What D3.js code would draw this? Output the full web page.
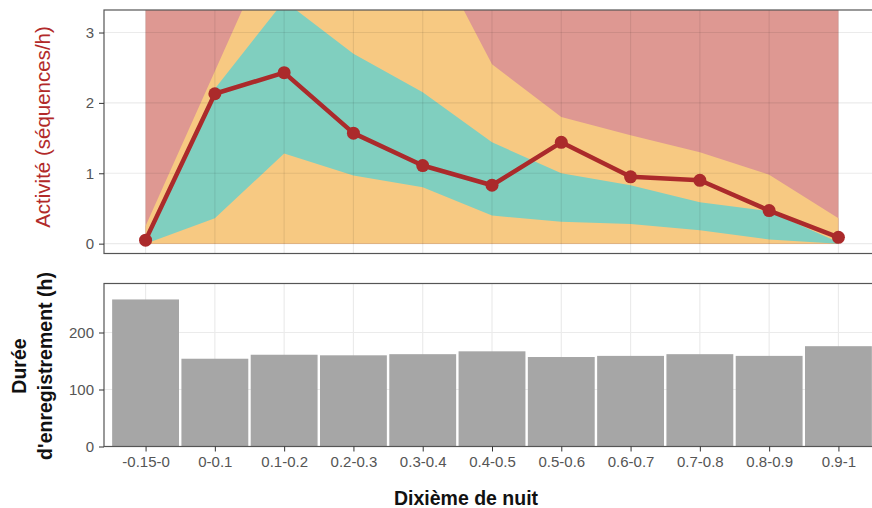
<!DOCTYPE html>
<html>
<head>
<meta charset="utf-8">
<script src="https://cdn.jsdelivr.net/npm/d3@7"></script>
<style>
  body { margin: 0; background: #fff; }
  text { font-family: "Liberation Sans", Arial, sans-serif; }
</style>
</head>
<body>
<div id="chart"></div>
<script>
// categories (tenths of the night)
var categories = ["-0.15-0", "0-0.1", "0.1-0.2", "0.2-0.3", "0.3-0.4", "0.4-0.5",
                  "0.5-0.6", "0.6-0.7", "0.7-0.8", "0.8-0.9", "0.9-1"];

// activity (sequences/h), the red line
var activity = [0.05, 2.13, 2.43, 1.57, 1.11, 0.83, 1.44, 0.95, 0.90, 0.47, 0.09];

// envelopes: inner (teal), middle (yellow), outer (red)
var tealLow    = [0, 0.36, 1.28, 0.97, 0.80, 0.40, 0.31, 0.28, 0.19, 0.06, 0];
var tealHigh   = [0.05, 2.2, 3.45, 2.70, 2.15, 1.44, 1.00, 0.83, 0.59, 0.46, 0.02];
var yellowLow  = [0, 0, 0, 0, 0, 0, 0, 0, 0, 0, 0];
var yellowHigh = [0.25, 2.45, 4.65, 4.8, 4.43, 2.55, 1.80, 1.54, 1.30, 0.98, 0.36];
var redLow     = [0, 0, 0, 0, 0, 0, 0, 0, 0, 0, 0];
var redHigh    = [4, 5, 6, 6, 6, 5, 4, 4, 4, 4, 4];

// recording duration (h), the grey bars
var duration = [258, 154, 161, 160, 162, 167, 157, 159, 162, 159, 176];

var yTicksTop = [0, 1, 2, 3];
var yTicksBottom = [0, 100, 200];

var width = 872, height = 508;
var svg = d3.select("#chart").append("svg")
    .attr("width", width)
    .attr("height", height);

var panelLeft = 104, panelRight = 880;
var top1 = 10, bottom1 = 253.5;
var top2 = 283.5, bottom2 = 446.5;

var x = d3.scalePoint()
    .domain(categories)
    .range([panelLeft, panelRight])
    .padding(0.6);

var yTop = d3.scaleLinear().domain([-0.14, 3.32]).range([bottom1, top1]);
var yBottom = d3.scaleLinear().domain([0, 286]).range([bottom2, top2]);

var tickColor = "#555";
var borderColor = "#555";

// ---------- top panel ----------
svg.append("clipPath").attr("id", "clipTop")
  .append("rect")
    .attr("x", panelLeft).attr("y", top1)
    .attr("width", panelRight - panelLeft).attr("height", bottom1 - top1);

var gTop = svg.append("g").attr("clip-path", "url(#clipTop)");

function ribbon(lo, hi, color) {
    var data = categories.map(function (c, i) { return { c: c, lo: lo[i], hi: hi[i] }; });
    gTop.append("path")
        .datum(data)
        .attr("fill", color)
        .attr("d", d3.area()
            .x(function (d) { return x(d.c); })
            .y0(function (d) { return yTop(d.lo); })
            .y1(function (d) { return yTop(d.hi); }));
}
ribbon(redLow, redHigh, "#de9892");
ribbon(yellowLow, yellowHigh, "#f7c982");
ribbon(tealLow, tealHigh, "#80cfbf");

// grid drawn over the ribbons with a faint dark stroke
gTop.selectAll(".hgrid").data(yTicksTop).enter().append("line")
    .attr("x1", panelLeft).attr("x2", panelRight)
    .attr("y1", function (d) { return yTop(d); })
    .attr("y2", function (d) { return yTop(d); })
    .attr("stroke", "rgba(0,0,0,0.08)").attr("stroke-width", 1.2);
gTop.selectAll(".vgrid").data(categories).enter().append("line")
    .attr("y1", top1).attr("y2", bottom1)
    .attr("x1", function (d) { return x(d); })
    .attr("x2", function (d) { return x(d); })
    .attr("stroke", "rgba(0,0,0,0.08)").attr("stroke-width", 1.2);

var lineData = categories.map(function (c, i) { return { c: c, v: activity[i] }; });
gTop.append("path")
    .datum(lineData)
    .attr("fill", "none")
    .attr("stroke", "#ab2a2b")
    .attr("stroke-width", 4.5)
    .attr("stroke-linejoin", "round")
    .attr("d", d3.line()
        .x(function (d) { return x(d.c); })
        .y(function (d) { return yTop(d.v); }));

gTop.selectAll(".pt").data(lineData).enter().append("circle")
    .attr("cx", function (d) { return x(d.c); })
    .attr("cy", function (d) { return yTop(d.v); })
    .attr("r", 6.5)
    .attr("fill", "#ab2a2b");

svg.append("rect")
    .attr("x", panelLeft).attr("y", top1)
    .attr("width", panelRight - panelLeft).attr("height", bottom1 - top1)
    .attr("fill", "none").attr("stroke", borderColor).attr("stroke-width", 1.2);

var axTop = svg.append("g")
    .attr("transform", "translate(" + panelLeft + ",0)")
    .call(d3.axisLeft(yTop).tickValues(yTicksTop).tickFormat(d3.format("d"))
        .tickSize(5).tickPadding(5));
axTop.select(".domain").remove();
axTop.selectAll(".tick line").attr("stroke", "#333");
axTop.selectAll(".tick text").attr("fill", tickColor).style("font-size", "15px");

svg.append("text")
    .attr("transform", "translate(43,127) rotate(-90)")
    .attr("text-anchor", "middle")
    .attr("dy", "0.35em")
    .attr("fill", "#b22a2a")
    .style("font-size", "20.5px")
    .text("Activité (séquences/h)");

// ---------- bottom panel ----------
var gBot = svg.append("g");
gBot.selectAll(".hgrid").data(yTicksBottom.slice(1)).enter().append("line")
    .attr("x1", panelLeft).attr("x2", panelRight)
    .attr("y1", function (d) { return yBottom(d); })
    .attr("y2", function (d) { return yBottom(d); })
    .attr("stroke", "#ebebeb").attr("stroke-width", 1.2);
gBot.selectAll(".vgrid").data(categories).enter().append("line")
    .attr("y1", top2).attr("y2", bottom2)
    .attr("x1", function (d) { return x(d); })
    .attr("x2", function (d) { return x(d); })
    .attr("stroke", "#ebebeb").attr("stroke-width", 1.2);

var barW = x.step() * 0.965;
gBot.selectAll(".bar").data(categories).enter().append("rect")
    .attr("x", function (d) { return x(d) - barW / 2; })
    .attr("y", function (d, i) { return yBottom(duration[i]); })
    .attr("width", barW)
    .attr("height", function (d, i) { return yBottom(0) - yBottom(duration[i]); })
    .attr("fill", "#a6a6a6");

svg.append("rect")
    .attr("x", panelLeft).attr("y", top2)
    .attr("width", panelRight - panelLeft).attr("height", bottom2 - top2)
    .attr("fill", "none").attr("stroke", borderColor).attr("stroke-width", 1.2);

var axBotY = svg.append("g")
    .attr("transform", "translate(" + panelLeft + ",0)")
    .call(d3.axisLeft(yBottom).tickValues(yTicksBottom).tickSize(5).tickPadding(5));
axBotY.select(".domain").remove();
axBotY.selectAll(".tick line").attr("stroke", "#333");
axBotY.selectAll(".tick text").attr("fill", tickColor).style("font-size", "15px");

var axBotX = svg.append("g")
    .attr("transform", "translate(0," + bottom2 + ")")
    .call(d3.axisBottom(x).tickSize(5).tickPadding(5));
axBotX.select(".domain").remove();
axBotX.selectAll(".tick line").attr("stroke", "#333");
axBotX.selectAll(".tick text").attr("fill", tickColor).style("font-size", "15px");

svg.append("text")
    .attr("x", 466).attr("y", 505)
    .attr("text-anchor", "middle")
    .attr("fill", "#111")
    .style("font-size", "19.5px")
    .style("font-weight", "bold")
    .text("Dixième de nuit");

// two-line y title of the bottom panel
var durLines = ["Durée", "d'enregistrement (h)"];
svg.selectAll(".durlab").data(durLines).enter().append("text")
    .attr("transform", function (d, i) { return "translate(" + (19 + i * 26) + ",366) rotate(-90)"; })
    .attr("text-anchor", "middle")
    .attr("dy", "0.35em")
    .attr("fill", "#111")
    .style("font-size", "19.5px")
    .style("font-weight", "bold")
    .text(function (d) { return d; });
</script>
</body>
</html>
